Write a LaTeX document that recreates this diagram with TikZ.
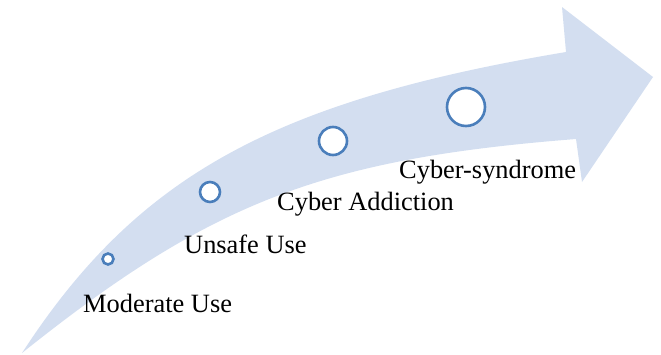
\documentclass[tikz,border=0pt]{standalone}
\usepackage{fontspec}
\setmainfont{Liberation Serif}
\definecolor{bandfill}{HTML}{D3DEF0}
\definecolor{ringline}{HTML}{4A7EBB}
\begin{document}
\begin{tikzpicture}[x=1pt,y=-1pt,
  ring/.style={circle,draw=ringline,line width=2.6pt,fill=white,inner sep=0pt},
  stage/.style={anchor=base west,inner sep=0pt,font=\fontsize{26.4}{30}\selectfont}]
\useasboundingbox (0,0) rectangle (661,354);
% curved arrow: upper edge, head, lower edge back to the tail point
\coordinate (tail) at (22,353);
\coordinate (top) at (566,52);
\coordinate (bot) at (576,139);
\fill[bandfill]
  (tail) .. controls (137,176) and (273,101) .. (top)
  -- (562,7) -- (653,77) -- (582,182) -- (bot)
  .. controls (322,159) and (211,202) .. (tail)
  -- cycle;
% stage markers
\node[ring,minimum size=11pt] (c1) at (108,259) {};
\node[ring,minimum size=20pt] (c2) at (210,192) {};
\node[ring,minimum size=28pt] (c3) at (333,141) {};
\node[ring,minimum size=38pt] (c4) at (466,107) {};
% stage labels
\node[stage] (t1) at (83,312) {Moderate Use};
\node[stage] (t2) at (184,253) {Unsafe Use};
\node[stage] (t3) at (277,210) {Cyber Addiction};
\node[stage] (t4) at (399,178) {Cyber-syndrome};
\end{tikzpicture}
\end{document}
